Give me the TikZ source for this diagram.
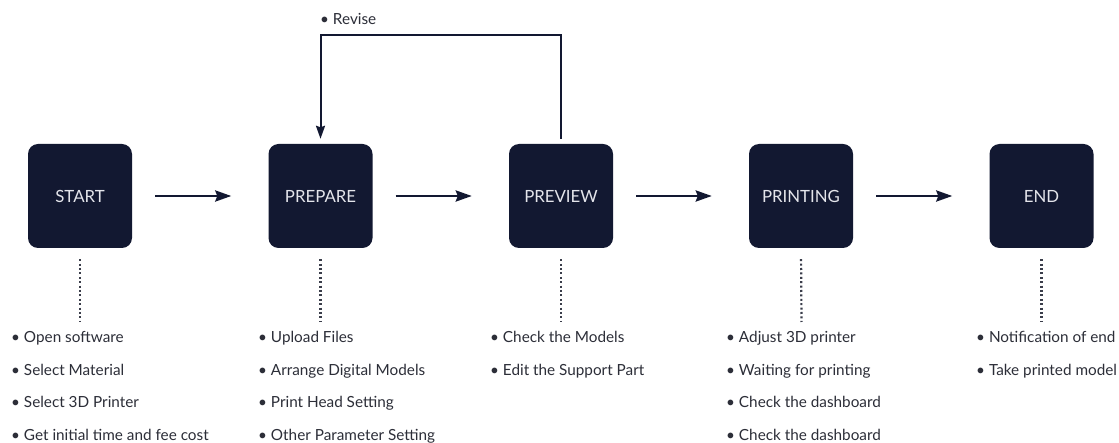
\documentclass[tikz,border=0pt]{standalone}
\usepackage{fontspec}
\setmainfont{Lato}
\usetikzlibrary{arrows.meta}
\definecolor{navy}{HTML}{121831}
\definecolor{labelgray}{HTML}{E4E5EB}
\definecolor{itemgray}{HTML}{2C2E38}
\definecolor{dotgray}{HTML}{3A3D4A}
\begin{document}
\begin{tikzpicture}[x=1pt,y=-1pt,
  stage/.style={fill=navy, rounded corners=10pt, minimum width=104pt, minimum height=104pt,
    inner sep=0pt, text=labelgray, font=\fontsize{16.8}{19}\selectfont},
  flow/.style={navy, line width=2.6pt, -{Stealth[length=16pt,width=11pt,inset=2pt]},
    shorten <=23pt, shorten >=37pt},
  revise/.style={navy, line width=2pt},
  dotline/.style={dotgray, line width=2.2pt, dash pattern=on 2pt off 2.4pt, shorten <=11pt},
  item/.style={anchor=base west, inner sep=0pt, text=itemgray, font=\fontsize{15.3}{18}\selectfont}
]
\useasboundingbox[fill=white] (0,0) rectangle (1119,443);

\node[stage] (start) at (80,196) {START};
\node[stage] (prepare) at (320.5,196) {PREPARE};
\node[stage] (preview) at (561,196) {PREVIEW};
\node[stage] (printing) at (801,196) {PRINTING};
\node[stage] (finish) at (1041.5,196) {END};

\draw[flow] (start) -- (prepare);
\draw[flow] (prepare) -- (preview);
\draw[flow] (preview) -- (printing);
\draw[flow] (printing) -- (finish);

% revise loop
\coordinate (rvtop) at (320.5,35);
\draw[revise, shorten <=5pt, -{Stealth[length=13pt,width=9pt,inset=1.5pt]}, shorten >=5pt]
  (preview.north) |- (rvtop) -- (prepare.north);
\node[item] (revlabel) at (320,24.5) {• Revise};

% dotted stems
\coordinate (startdot) at (80,322);
\coordinate (preparedot) at (320.5,322);
\coordinate (previewdot) at (561,322);
\coordinate (printingdot) at (801.5,322);
\coordinate (finishdot) at (1041.5,322);
\draw[dotline] (start.south) -- (startdot);
\draw[dotline] (prepare.south) -- (preparedot);
\draw[dotline] (preview.south) -- (previewdot);
\draw[dotline] (printing.south) -- (printingdot);
\draw[dotline] (finish.south) -- (finishdot);

% lists
\foreach \t [count=\i] in {Open software, Select Material, Select 3D Printer, Get initial time and fee cost}
  \node[item] (sitem\i) at (11,{342.5+32.7*(\i-1)}) {• \t};
\foreach \t [count=\i] in {Upload Files, Arrange Digital Models, Print Head Setting, Other Parameter Setting}
  \node[item] (pitem\i) at (258,{342.5+32.7*(\i-1)}) {• \t};
\foreach \t [count=\i] in {Check the Models, Edit the Support Part}
  \node[item] (vitem\i) at (490,{342.5+32.7*(\i-1)}) {• \t};
\foreach \t [count=\i] in {Adjust 3D printer, Waiting for printing, Check the dashboard, Check the dashboard}
  \node[item] (ritem\i) at (726,{342.5+32.7*(\i-1)}) {• \t};
\foreach \t [count=\i] in {Notification of end, Take printed model}
  \node[item] (eitem\i) at (976,{342.5+32.7*(\i-1)}) {• \t};
\end{tikzpicture}
\end{document}
